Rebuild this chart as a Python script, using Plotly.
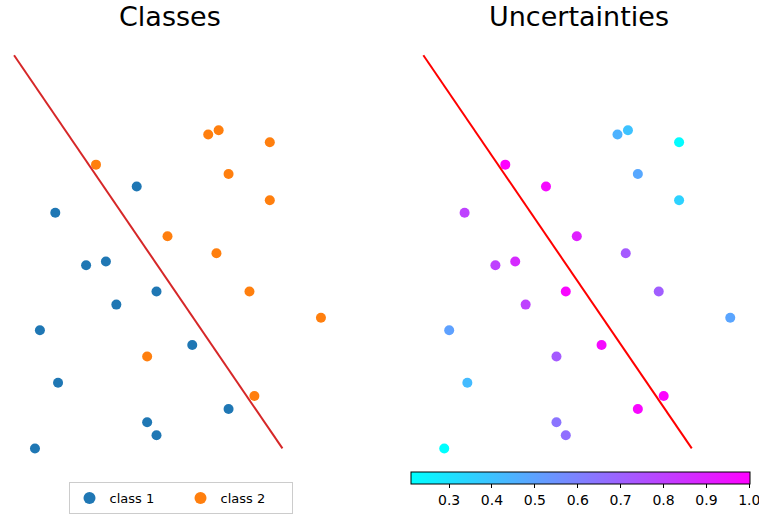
import plotly.graph_objects as go

# Sample points (feature space), class labels and predictive uncertainty
x_vals = [0.74, 0.93, 1.86, -1.30, -0.56, 1.11, -2.04, 1.86, 0.00, 0.89,
          -1.48, -1.12, -0.20, 1.49, -0.93, -2.32, 2.79, 0.45, -0.37, -1.99,
          1.58, 1.11, -0.37, -0.20, -2.41]
y_vals = [2.13, 2.21, 1.99, 1.58, 1.18, 1.41, 0.70, 0.93, 0.27, -0.04,
          -0.26, -0.19, -0.74, -0.74, -0.98, -1.45, -1.22, -1.72, -1.93, -2.41,
          -2.65, -2.89, -3.13, -3.37, -3.61]
labels = [2, 2, 2, 2, 1, 2, 1, 2, 2, 2,
          1, 1, 1, 2, 1, 1, 2, 1, 2, 1,
          2, 1, 1, 1, 1]
uncertainty = [0.45, 0.40, 0.22, 1.00, 0.97, 0.48, 0.80, 0.35, 0.90, 0.72,
               0.80, 0.87, 0.98, 0.71, 0.80, 0.50, 0.49, 0.97, 0.72, 0.42,
               0.99, 0.98, 0.64, 0.66, 0.21]

# Decision boundary end points
boundary_x = [-2.79, 2.09]
boundary_y = [3.58, -3.61]

class_names = ["class 1", "class 2"]
class_colors = ["#1f77b4", "#ff7f0e"]
cbar_ticks = [0.3, 0.4, 0.5, 0.6, 0.7, 0.8, 0.9, 1.0]

W, H = 759, 514
FONT = "DejaVu Sans"

fig = go.Figure()

# Left panel: points coloured by class
for k, (name, col) in enumerate(zip(class_names, class_colors), start=1):
    xs = [x for x, c in zip(x_vals, labels) if c == k]
    ys = [y for y, c in zip(y_vals, labels) if c == k]
    fig.add_trace(go.Scatter(x=xs, y=ys, mode="markers", name=name,
                             marker=dict(color=col, size=10),
                             xaxis="x", yaxis="y"))
fig.add_trace(go.Scatter(x=boundary_x, y=boundary_y, mode="lines",
                         line=dict(color="#d62728", width=2),
                         showlegend=False, xaxis="x", yaxis="y"))

# Right panel: points coloured by uncertainty
fig.add_trace(go.Scatter(
    x=x_vals, y=y_vals, mode="markers", showlegend=False,
    marker=dict(size=10, color=uncertainty,
                colorscale=[[0, "rgb(0,255,255)"], [1, "rgb(255,0,255)"]],
                cmin=min(uncertainty), cmax=max(uncertainty) + 0.0005,
                colorbar=dict(orientation="h", x=580 / W, xanchor="center",
                              y=1 - 475 / H, yanchor="top", ypad=0, xpad=0,
                              len=339, lenmode="pixels", thickness=12,
                              outlinecolor="black", outlinewidth=1,
                              tickvals=cbar_ticks,
                              ticktext=[f"{t:.1f}" for t in cbar_ticks],
                              ticklabeloverflow="allow",
                              ticks="outside", ticklen=4, tickcolor="black",
                              tickfont=dict(family=FONT, size=14, color="black"))),
    xaxis="x2", yaxis="y2"))
fig.add_trace(go.Scatter(x=boundary_x, y=boundary_y, mode="lines",
                         line=dict(color="#ff0000", width=2),
                         showlegend=False, xaxis="x2", yaxis="y2"))

xr = [(0 - 167.5) / 55, (340 - 167.5) / 55]
yr = [(250 - 470) / 55, (250 - 40) / 55]
hidden = dict(visible=False, showgrid=False, zeroline=False)
ydom = [1 - 472.5 / H, 1 - 42.5 / H]

fig.update_layout(
    width=W, height=H,
    margin=dict(l=0, r=0, t=0, b=0),
    paper_bgcolor="white", plot_bgcolor="white",
    font=dict(family=FONT, color="black"),
    xaxis=dict(domain=[0, 340 / W], range=xr, **hidden),
    yaxis=dict(domain=ydom, range=yr, **hidden),
    xaxis2=dict(domain=[409.3 / W, 749.3 / W], range=xr, **hidden),
    yaxis2=dict(domain=ydom, range=yr, anchor="x2", **hidden),
    legend=dict(orientation="h", x=180.5 / W, xanchor="center",
                y=1 - 485 / H, yanchor="top",
                bordercolor="#cccccc", borderwidth=1,
                font=dict(family=FONT, size=13, color="black"),
                entrywidth=66, itemsizing="constant"),
    annotations=[
        dict(text="Classes", x=170 / W, y=1 - 17 / H, xref="paper", yref="paper",
             xanchor="center", yanchor="middle", showarrow=False,
             font=dict(family=FONT, size=27, color="black")),
        dict(text="Uncertainties", x=578.5 / W, y=1 - 17 / H, xref="paper", yref="paper",
             xanchor="center", yanchor="middle", showarrow=False,
             font=dict(family=FONT, size=27, color="black")),
    ],
)

fig.write_html("out.html")
